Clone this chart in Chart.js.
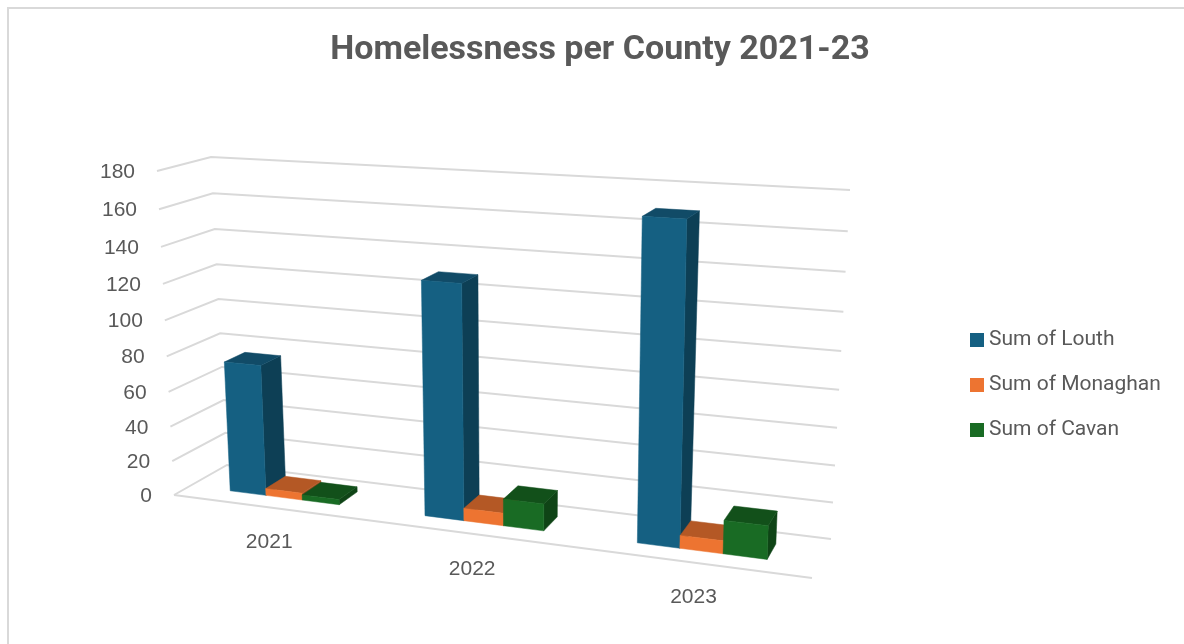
<!DOCTYPE html>
<html>
<head>
<meta charset="utf-8">
<title>Homelessness per County 2021-23</title>
<script src="https://cdn.jsdelivr.net/npm/chart.js@4"></script>
<style>
    html, body { margin: 0; height: 100%; background: #fff; overflow: hidden; }
    #frame { position: absolute; left: 7px; top: 7px; right: -10px; bottom: -10px; border: 2px solid #d9d9d9; }
    #chart { position: absolute; left: 0; top: 0; }
</style>
</head>
<body>
<div id="frame"></div>
<canvas id="chart" width="1184" height="644"></canvas>
<script>
const years = ['2021', '2022', '2023']
const louth = [75, 129, 169]
const monaghan = [4, 7, 7]
const cavan = [3, 15, 18]

const seriesNames = ['Sum of Louth', 'Sum of Monaghan', 'Sum of Cavan']
const frontColors = ['#156082', '#ed7431', '#196b24']
const topColors = ['#114b67', '#b45825', '#12501a']
const sideColors = ['#0d3f55', '#a04e20', '#0f4416']

const textColor = '#595959'
const gridColor = '#d9d9d9'
const axisFont = '21px "Liberation Sans"'
const legendFont = '21px Roboto'

// corners of the 3d box the chart sits in
const floorFrontLeft = [174, 495], floorFrontRight = [812, 578]
const floorBackLeft = [227, 465], floorBackRight = [831, 539]
const topFrontLeft = [157, 171], topFrontRight = [824, 211]
const topBackLeft = [211, 157], topBackRight = [850, 190]

// perspective squeeze along the width and the height
const widthSqueeze = 1.14
const heightSqueeze = 1.07
// where the bars sit between the front (0) and the back (1) of the floor
const barFront = 0.31
const barBack = 0.71

function mix(a, b, t) {
    return [a[0] + (b[0] - a[0]) * t, a[1] + (b[1] - a[1]) * t]
}

// s = across, v = up, w = into the picture, all 0..1
function project(s, v, w) {
    let u = s / (s + widthSqueeze * (1 - s))
    let f = v / (v + heightSqueeze * (1 - v))
    let low = mix(mix(floorFrontLeft, floorFrontRight, u), mix(floorBackLeft, floorBackRight, u), w)
    let high = mix(mix(topFrontLeft, topFrontRight, u), mix(topBackLeft, topBackRight, u), w)
    return mix(low, high, f)
}

function face(ctx, points, color) {
    ctx.beginPath()
    points.forEach((p, i) => i ? ctx.lineTo(p[0], p[1]) : ctx.moveTo(p[0], p[1]))
    ctx.closePath()
    ctx.fillStyle = color
    ctx.strokeStyle = color
    ctx.lineWidth = 0.5
    ctx.fill()
    ctx.stroke()
}

function line(ctx, points) {
    ctx.beginPath()
    points.forEach((p, i) => i ? ctx.lineTo(p[0], p[1]) : ctx.moveTo(p[0], p[1]))
    ctx.strokeStyle = gridColor
    ctx.lineWidth = 2
    ctx.stroke()
}

const box3d = {
    id: 'box3d',
    beforeDatasetsDraw(chart) {
        const ctx = chart.ctx
        const area = chart.chartArea
        const xs = chart.scales.x
        const ys = chart.scales.y
        const across = px => (px - area.left) / (area.right - area.left)
        const up = px => (area.bottom - px) / (area.bottom - area.top)

        ctx.save()

        // gridlines run along the left wall and the back wall
        ys.ticks.forEach(tick => {
            let v = up(ys.getPixelForValue(tick.value))
            line(ctx, [project(0, v, 0), project(0, v, 1), project(1, v, 1)])
        })
        line(ctx, [project(0, 0, 0), project(1, 0, 0)])

        // tick labels follow the front left edge
        ctx.font = axisFont
        ctx.fillStyle = textColor
        ctx.textAlign = 'right'
        ctx.textBaseline = 'middle'
        ys.ticks.forEach(tick => {
            let p = project(0, up(ys.getPixelForValue(tick.value)), 0)
            ctx.fillText(String(tick.value), p[0] - 22, p[1] + 1)
        })
        ctx.textAlign = 'center'
        years.forEach((year, i) => {
            let p = project(across(xs.getPixelForValue(i)), 0, 0)
            ctx.fillText(year, p[0], p[1] + 35)
        })

        // left to right so the nearer bars cover the ones behind
        years.forEach((year, i) => {
            chart.data.datasets.forEach((ds, d) => {
                let bar = chart.getDatasetMeta(d).data[i]
                let l = across(bar.x - bar.width / 2)
                let r = across(bar.x + bar.width / 2)
                let t = up(bar.y)
                let b = up(bar.base)
                face(ctx, [project(r, b, barFront), project(r, b, barBack), project(r, t, barBack), project(r, t, barFront)], sideColors[d])
                face(ctx, [project(l, t, barFront), project(r, t, barFront), project(r, t, barBack), project(l, t, barBack)], topColors[d])
                face(ctx, [project(l, b, barFront), project(r, b, barFront), project(r, t, barFront), project(l, t, barFront)], frontColors[d])
            })
        })

        // legend
        ctx.font = legendFont
        ctx.textAlign = 'left'
        chart.data.datasets.forEach((ds, d) => {
            let y = 340 + d * 45
            ctx.fillStyle = frontColors[d]
            ctx.fillRect(970, y - 7, 14, 14)
            ctx.fillStyle = textColor
            ctx.fillText(ds.label, 989, y)
        })

        ctx.restore()
        return false
    }
}

new Chart(document.getElementById('chart'), {
    type: 'bar',
    data: {
        labels: years,
        datasets: [
            { label: seriesNames[0], data: louth, backgroundColor: frontColors[0] },
            { label: seriesNames[1], data: monaghan, backgroundColor: frontColors[1] },
            { label: seriesNames[2], data: cavan, backgroundColor: frontColors[2] }
        ]
    },
    options: {
        responsive: false,
        animation: false,
        events: [],
        layout: { padding: { left: 16 } },
        categoryPercentage: 0.57,
        barPercentage: 1,
        scales: {
            x: { display: false },
            y: { display: false, min: 0, max: 180, ticks: { stepSize: 20 } }
        },
        plugins: {
            legend: { display: false },
            tooltip: { enabled: false },
            title: {
                display: true,
                text: 'Homelessness per County 2021-23',
                color: textColor,
                font: { family: 'Roboto', size: 34, weight: 'bold' },
                padding: { top: 30, bottom: 10 }
            }
        }
    },
    plugins: [box3d]
})
</script>
</body>
</html>
